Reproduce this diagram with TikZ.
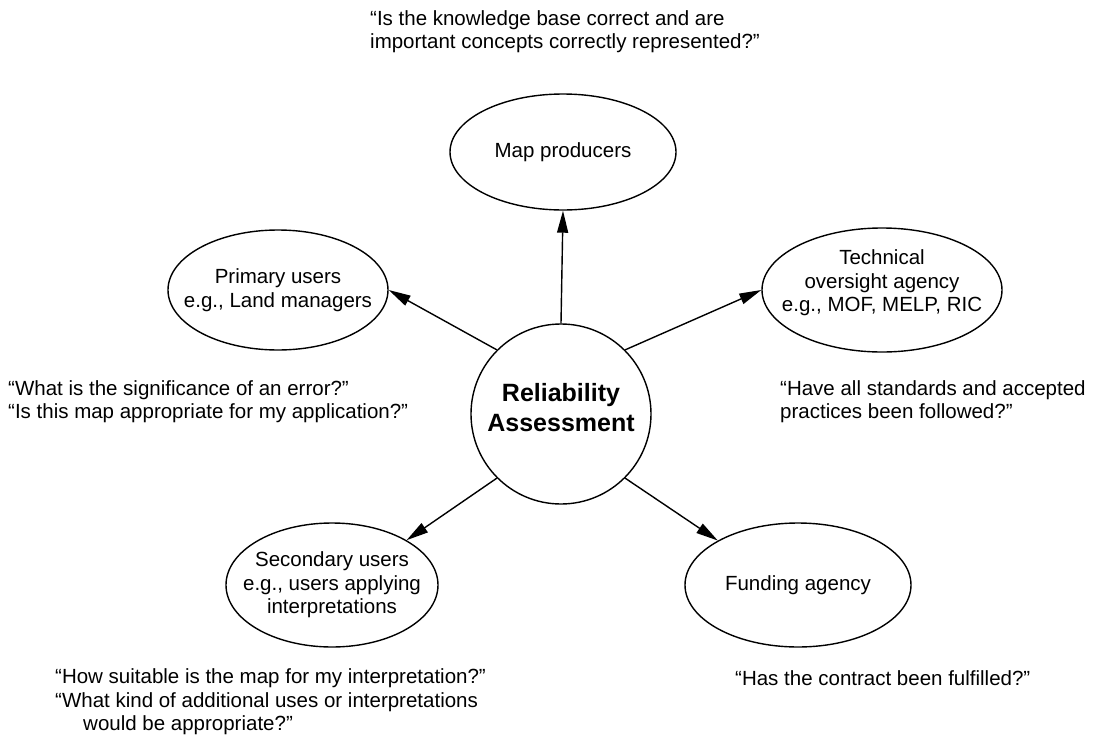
\documentclass[tikz,border=0pt]{standalone}
\usepackage{fontspec}
\setmainfont{Liberation Sans}
\usetikzlibrary{arrows.meta,shapes.geometric}
\begin{document}
\begin{tikzpicture}[x=1pt,y=-1pt,
  every node/.style={inner sep=0pt, font=\fontsize{20.5}{23.5}\selectfont},
  ell/.style={draw, ellipse, line width=1.4pt},
  conn/.style={line width=1.4pt, -{Triangle[length=22pt,width=11pt]}},
  quote/.style={align=left, anchor=west},
  lbl/.style={align=center}]
\useasboundingbox (0,0) rectangle (1112,742);
% centre
\node[draw, circle, line width=1.4pt, minimum size=180pt] (c) at (561,414) {};
\node[lbl, font=\fontsize{25}{30}\selectfont\bfseries] (ct) at (561,408) {Reliability\\Assessment};
% ellipses
\node[ell, minimum width=226pt, minimum height=116pt] (m) at (563,152) {};
\node[lbl] (mt) at (m) {Map producers};
\node[ell, minimum width=220pt, minimum height=120pt] (p) at (278,290) {};
\node[lbl] (pt) at (p) {Primary users\\e.g., Land managers};
\node[ell, minimum width=240pt, minimum height=124pt] (t) at (882,290) {};
\node[lbl] (tt) at (882,283) {Technical\\oversight agency\\e.g., MOF, MELP, RIC};
\node[ell, minimum width=212pt, minimum height=124pt] (s) at (332,585) {};
\node[lbl] (st) at (s) {Secondary users\\e.g., users applying\\interpretations};
\node[ell, minimum width=226pt, minimum height=124pt] (f) at (798,585) {};
\node[lbl] (ft) at (f) {Funding agency};
% connectors
\draw[conn] (c.90) -- (m.south);
\draw[conn] (c.135) -- (p.east);
\draw[conn] (c.45) -- (t.west);
\draw[conn] (c.225) -- (s.31);
\draw[conn] (c.315) -- (f.151);
% quotes
\node[quote] (q1) at (370,31.5) {“Is the knowledge base correct and are\\important concepts correctly represented?”};
\node[quote] (q2) at (8,401.5) {“What is the significance of an error?”\\“Is this map appropriate for my application?”};
\node[quote] (q3) at (780,401.5) {“Have all standards and accepted\\practices been followed?”};
\node[quote] (q4) at (55,702) {“How suitable is the map for my interpretation?”\\“What kind of additional uses or interpretations\\\hspace*{28pt}would be appropriate?”};
\node[quote] (q5) at (735,678) {“Has the contract been fulfilled?”};
\end{tikzpicture}
\end{document}
